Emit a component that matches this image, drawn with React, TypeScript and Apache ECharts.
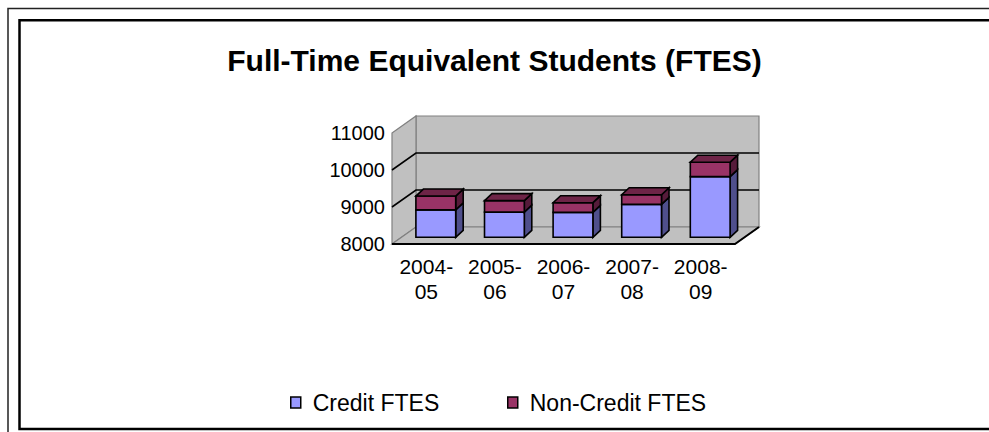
import React, { useEffect, useRef } from "react";
import * as echarts from "echarts";

// ---- data ----
const categories = ["2004-05", "2005-06", "2006-07", "2007-08", "2008-09"];
const creditFTES = [8740, 8680, 8675, 8890, 9640];
const nonCreditFTES = [375, 310, 260, 260, 390];
const yTicks = [8000, 9000, 10000, 11000];
const seriesNames = ["Credit FTES", "Non-Credit FTES"];
const titleText = "Full-Time Equivalent Students (FTES)";

const Y_MIN = 8000;
const Y_MAX = 11000;
const Y_STEP = 1000;

// ---- styling constants ----
const FONT = "'Liberation Sans', Arial, sans-serif";
const DEPTH_X = 24; // box depth offset
const DEPTH_Y = -17;
const BAR_OFF_X = 9.5; // bar front face offset from front plane
const BAR_OFF_Y = -6.7;
const BAR_DX = 7.5; // bar depth
const BAR_DY = -7;
const BAR_FRAC = 0.58;

const COLORS = {
  credit: { front: "#9999FF", side: "#4F4F8C", top: "#6B6BB8" },
  nonCredit: { front: "#993366", side: "#561B3A", top: "#6E2447" },
};

function wallsRender(params: any, api: any) {
  const cs = params.coordSys;
  const x0 = cs.x;
  const x1 = cs.x + cs.width;
  const yOf = (v: number) => api.coord([0, v])[1];
  const yTop = yOf(Y_MAX);
  const yBot = yOf(Y_MIN);
  const wall = { fill: "#C0C0C0", stroke: "#808080", lineWidth: 1.2 };
  const children: any[] = [
    {
      type: "polygon",
      shape: { points: [[x0 + DEPTH_X, yTop + DEPTH_Y], [x1 + DEPTH_X, yTop + DEPTH_Y], [x1 + DEPTH_X, yBot + DEPTH_Y], [x0 + DEPTH_X, yBot + DEPTH_Y]] },
      style: wall,
    },
    {
      type: "polygon",
      shape: { points: [[x0, yTop], [x0 + DEPTH_X, yTop + DEPTH_Y], [x0 + DEPTH_X, yBot + DEPTH_Y], [x0, yBot]] },
      style: wall,
    },
    {
      type: "polygon",
      shape: { points: [[x0, yBot], [x1, yBot], [x1 + DEPTH_X, yBot + DEPTH_Y], [x0 + DEPTH_X, yBot + DEPTH_Y]] },
      style: wall,
    },
  ];
  yTicks.forEach((t) => {
    if (t === Y_MIN || t === Y_MAX) return;
    const y = yOf(t);
    children.push({
      type: "polyline",
      shape: { points: [[x0, y], [x0 + DEPTH_X, y + DEPTH_Y], [x1 + DEPTH_X, y + DEPTH_Y]] },
      style: { stroke: "#000", lineWidth: 1.6, fill: null },
    });
  });
  children.push({
    type: "polyline",
    shape: { points: [[x0, yBot], [x1, yBot], [x1 + DEPTH_X, yBot + DEPTH_Y]] },
    style: { stroke: "#000", lineWidth: 2, fill: null },
  });
  return { type: "group", children };
}

function makeBarRender(c: { front: string; side: string; top: string }, drawTop: boolean) {
  return (params: any, api: any) => {
    const idx = api.value(0);
    const v0 = Math.max(api.value(1), Y_MIN);
    const v1 = api.value(2);
    const pt = api.coord([idx, v1]);
    const pb = api.coord([idx, v0]);
    const bw = api.size([1, 0])[0] * BAR_FRAC;
    const xl = pt[0] - bw / 2 + BAR_OFF_X;
    const xr = xl + bw;
    const yt = pt[1] + BAR_OFF_Y;
    const yb = pb[1] + BAR_OFF_Y;
    const stroke = { stroke: "#000", lineWidth: 1.6 };
    const children: any[] = [
      {
        type: "polygon",
        shape: { points: [[xr, yt], [xr + BAR_DX, yt + BAR_DY], [xr + BAR_DX, yb + BAR_DY], [xr, yb]] },
        style: { fill: c.side, ...stroke },
      },
      {
        type: "rect",
        shape: { x: xl, y: yt, width: bw, height: yb - yt },
        style: { fill: c.front, ...stroke },
      },
    ];
    if (drawTop) {
      children.push({
        type: "polygon",
        shape: { points: [[xl, yt], [xr, yt], [xr + BAR_DX, yt + BAR_DY], [xl + BAR_DX, yt + BAR_DY]] },
        style: { fill: c.top, ...stroke },
      });
    }
    return { type: "group", children };
  };
}

export default function App() {
  const ref = useRef<HTMLDivElement>(null);
  useEffect(() => {
    if (!ref.current) return;
    const chart = echarts.init(ref.current, undefined, { renderer: "svg" });
    const creditData = categories.map((_, i) => [i, 0, creditFTES[i]]);
    const nonCreditData = categories.map((_, i) => [i, creditFTES[i], creditFTES[i] + nonCreditFTES[i]]);
    const legendText = { fontSize: 23, fontFamily: FONT, color: "#000", padding: [0, 0, 0, 7] };
    chart.setOption({
      animation: false,
      backgroundColor: "#fff",
      title: {
        text: titleText,
        left: "center",
        top: 40,
        textStyle: { fontSize: 30, fontWeight: "bold", fontFamily: FONT, color: "#000" },
      },
      legend: [
        {
          left: 290,
          top: 391,
          padding: 0,
          itemWidth: 10,
          itemHeight: 11,
          selectedMode: false,
          textStyle: legendText,
          data: [{ name: seriesNames[0], icon: "rect", itemStyle: { color: COLORS.credit.front, borderColor: "#000", borderWidth: 1.5 } }],
        },
        {
          left: 507,
          top: 391,
          padding: 0,
          itemWidth: 10,
          itemHeight: 11,
          selectedMode: false,
          textStyle: legendText,
          data: [{ name: seriesNames[1], icon: "rect", itemStyle: { color: COLORS.nonCredit.front, borderColor: "#000", borderWidth: 1.5 } }],
        },
      ],
      grid: { left: 392, right: 254, top: 133, bottom: 188, containLabel: false },
      xAxis: {
        type: "category",
        data: categories,
        axisLine: { show: false },
        axisTick: { show: false },
        axisLabel: {
          fontSize: 21,
          fontFamily: FONT,
          color: "#000",
          lineHeight: 25,
          margin: 10,
          interval: 0,
          formatter: (v: string) => v.replace("-", "-\n"),
        },
      },
      yAxis: {
        type: "value",
        min: Y_MIN,
        max: Y_MAX,
        interval: Y_STEP,
        axisLine: { show: false },
        axisTick: { show: false },
        splitLine: { show: false },
        axisLabel: { fontSize: 20, fontFamily: FONT, color: "#000", margin: 7, formatter: (v: number) => String(v) },
      },
      graphic: [
        { type: "rect", shape: { x: 8, y: 8.5, width: 1100, height: 600 }, style: { fill: null, stroke: "#222", lineWidth: 1.5 }, silent: true },
        { type: "rect", shape: { x: 19.5, y: 20.3, width: 1100, height: 408.7 }, style: { fill: null, stroke: "#000", lineWidth: 2.5 }, silent: true },
      ],
      series: [
        {
          type: "custom",
          name: "walls",
          renderItem: wallsRender,
          data: [[0, Y_MIN, Y_MAX]],
          encode: { x: 0, y: [1, 2] },
          silent: true,
          z: 1,
        },
        {
          type: "custom",
          name: seriesNames[0],
          renderItem: makeBarRender(COLORS.credit, false),
          data: creditData,
          encode: { x: 0, y: [1, 2] },
          itemStyle: { color: COLORS.credit.front },
          z: 2,
        },
        {
          type: "custom",
          name: seriesNames[1],
          renderItem: makeBarRender(COLORS.nonCredit, true),
          data: nonCreditData,
          encode: { x: 0, y: [1, 2] },
          itemStyle: { color: COLORS.nonCredit.front },
          z: 3,
        },
      ],
    });
    return () => chart.dispose();
  }, []);
  return (
    <div
      ref={ref}
      style={{ position: "absolute", left: 0, top: 0, width: 989, height: 432, background: "#fff" }}
    />
  );
}
